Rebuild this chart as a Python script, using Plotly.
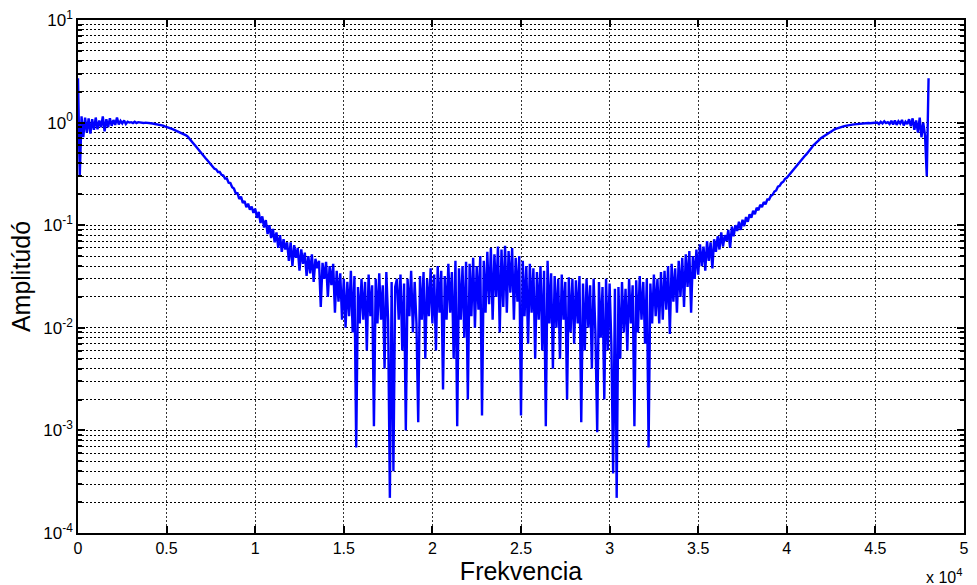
import numpy as np
import plotly.graph_objects as go

# Frequency grid (Hz), 100 Hz steps from 0 to 48000
frequency = np.arange(0, 48001, 100)

# Amplitude, one line per 1000 Hz
amplitude = [
    2.7, 0.3, 1.15, 0.72, 1.12, 0.8, 1.1, 0.78, 1.08, 0.85,            # 0
    1.12, 0.86, 1.05, 0.9, 1.15, 0.82, 1.08, 0.9, 1.1, 0.93,           # 1000
    1.06, 0.95, 1.12, 0.96, 1.04, 0.98, 1.05, 0.97, 1.02, 1.0,         # 2000
    1.01, 0.99, 1.02, 0.99, 1.01, 1.0, 1.0, 0.99, 1.0, 0.99,           # 3000
    0.99, 0.985, 0.98, 0.975, 0.97, 0.96, 0.955, 0.945, 0.935, 0.92,   # 4000
    0.91, 0.9, 0.885, 0.87, 0.855, 0.84, 0.83, 0.815, 0.8, 0.785,      # 5000
    0.77, 0.75, 0.73, 0.7, 0.67, 0.63, 0.6, 0.57, 0.54, 0.52,          # 6000
    0.49, 0.47, 0.45, 0.43, 0.41, 0.39, 0.375, 0.355, 0.35, 0.33,      # 7000
    0.33, 0.31, 0.305, 0.285, 0.285, 0.26, 0.258, 0.235, 0.228, 0.205, # 8000
    0.205, 0.18, 0.19, 0.165, 0.172, 0.15, 0.162, 0.142, 0.152, 0.132, # 9000
    0.145, 0.118, 0.135, 0.105, 0.122, 0.095, 0.112, 0.082, 0.1, 0.075,  # 10000
    0.092, 0.068, 0.085, 0.06, 0.08, 0.055, 0.073, 0.058, 0.068, 0.045,  # 11000
    0.068, 0.04, 0.064, 0.048, 0.06, 0.036, 0.058, 0.042, 0.054, 0.032,  # 12000
    0.05, 0.034, 0.052, 0.028, 0.047, 0.038, 0.045, 0.016, 0.043, 0.03,  # 13000
    0.044, 0.02, 0.04, 0.026, 0.042, 0.014, 0.036, 0.018, 0.034, 0.012,  # 14000
    0.03, 0.01, 0.028, 0.013, 0.036, 0.009, 0.032, 0.00068, 0.025, 0.011,   # 15000
    0.03, 0.012, 0.028, 0.006, 0.033, 0.013, 0.026, 0.0011, 0.03, 0.011,    # 16000
    0.034, 0.012, 0.026, 0.004, 0.035, 0.012, 0.00022, 0.028, 0.0004, 0.025,  # 17000
    0.03, 0.012, 0.033, 0.006, 0.027, 0.001, 0.03, 0.013, 0.036, 0.009,     # 18000
    0.028, 0.011, 0.0012, 0.032, 0.012, 0.035, 0.005, 0.03, 0.013, 0.038,   # 19000
    0.011, 0.033, 0.006, 0.04, 0.014, 0.036, 0.0025, 0.032, 0.012, 0.042,   # 20000
    0.014, 0.035, 0.005, 0.045, 0.0011, 0.038, 0.012, 0.04, 0.008, 0.044,   # 21000
    0.002, 0.042, 0.013, 0.048, 0.01, 0.04, 0.015, 0.05, 0.0014, 0.045,     # 22000
    0.014, 0.055, 0.017, 0.06, 0.012, 0.052, 0.02, 0.062, 0.009, 0.058,     # 23000
    0.016, 0.063, 0.014, 0.056, 0.022, 0.06, 0.012, 0.048, 0.018, 0.05,     # 24000
    0.0014, 0.045, 0.013, 0.04, 0.007, 0.042, 0.014, 0.038, 0.005, 0.035,   # 25000
    0.012, 0.04, 0.006, 0.036, 0.0011, 0.045, 0.011, 0.034, 0.004, 0.032,   # 26000
    0.01, 0.03, 0.005, 0.033, 0.012, 0.028, 0.002, 0.031, 0.009, 0.03,      # 27000
    0.007, 0.029, 0.011, 0.032, 0.0012, 0.027, 0.006, 0.03, 0.01, 0.026,    # 28000
    0.004, 0.03, 0.009, 0.00096, 0.028, 0.008, 0.025, 0.002, 0.03, 0.006,   # 29000
    0.027, 0.007, 0.00038, 0.024, 0.00022, 0.025, 0.005, 0.028, 0.009, 0.024,  # 30000
    0.006, 0.03, 0.011, 0.026, 0.0011, 0.029, 0.009, 0.032, 0.012, 0.028,   # 31000
    0.007, 0.03, 0.00068, 0.027, 0.011, 0.033, 0.013, 0.03, 0.011, 0.035,   # 32000
    0.012, 0.036, 0.015, 0.04, 0.0087, 0.042, 0.018, 0.038, 0.014, 0.045,   # 33000
    0.02, 0.048, 0.016, 0.052, 0.025, 0.056, 0.014, 0.05, 0.03, 0.058,      # 34000
    0.033, 0.065, 0.04, 0.062, 0.036, 0.07, 0.045, 0.068, 0.038, 0.073,     # 35000
    0.055, 0.078, 0.058, 0.085, 0.062, 0.08, 0.07, 0.09, 0.06, 0.097,       # 36000
    0.078, 0.1, 0.088, 0.108, 0.09, 0.113, 0.098, 0.12, 0.108, 0.128,       # 37000
    0.118, 0.138, 0.128, 0.148, 0.14, 0.158, 0.15, 0.168, 0.16, 0.178,      # 38000
    0.178, 0.193, 0.198, 0.213, 0.218, 0.238, 0.242, 0.258, 0.265, 0.283,   # 39000
    0.29, 0.305, 0.32, 0.335, 0.35, 0.37, 0.39, 0.41, 0.43, 0.45,           # 40000
    0.47, 0.49, 0.52, 0.54, 0.57, 0.6, 0.62, 0.65, 0.67, 0.7,               # 41000
    0.72, 0.74, 0.76, 0.78, 0.8, 0.82, 0.84, 0.86, 0.875, 0.89,             # 42000
    0.9, 0.91, 0.92, 0.93, 0.94, 0.945, 0.95, 0.955, 0.96, 0.965,           # 43000
    0.97, 0.975, 0.97, 0.98, 0.985, 0.98, 0.99, 0.985, 0.99, 1.0,           # 44000
    0.99, 1.0, 0.97, 1.02, 0.98, 1.03, 0.99, 1.01, 0.97, 1.04,              # 45000
    0.96, 1.05, 0.95, 1.03, 0.98, 1.06, 0.94, 1.02, 0.97, 1.08,             # 46000
    0.92, 1.1, 0.85, 1.05, 0.8, 1.12, 0.72, 1.0, 0.75, 0.3, 2.7,            # 47000-48000
]

x_tick_values = [0, 5000, 10000, 15000, 20000, 25000, 30000, 35000, 40000, 45000, 50000]
x_tick_labels = ["0", "0.5", "1", "1.5", "2", "2.5", "3", "3.5", "4", "4.5", "5"]
y_tick_values = [1e-4, 1e-3, 1e-2, 1e-1, 1e0, 1e1]
y_tick_labels = ["10<sup>-4</sup>", "10<sup>-3</sup>", "10<sup>-2</sup>",
                 "10<sup>-1</sup>", "10<sup>0</sup>", "10<sup>1</sup>"]
y_minor_values = [m * 10.0 ** e for e in range(-4, 1) for m in range(2, 10)]

FONT = "Arial, Liberation Sans, sans-serif"
GRID_DASH = "2px,2px"

fig = go.Figure()
fig.add_trace(go.Scatter(x=frequency, y=amplitude, mode="lines",
                         line=dict(color="#0000ff", width=2.4),
                         showlegend=False, hoverinfo="skip"))

fig.update_layout(
    width=977, height=585,
    margin=dict(l=78, r=8, t=18, b=52),
    paper_bgcolor="white", plot_bgcolor="white",
    font=dict(family=FONT, color="black", size=16),
)

fig.update_xaxes(
    range=[0, 50000],
    tickmode="array", tickvals=x_tick_values, ticktext=x_tick_labels,
    ticks="inside", ticklen=7, tickwidth=1.5, tickcolor="black",
    showline=True, linecolor="black", linewidth=1.5, mirror="ticks",
    showgrid=True, gridcolor="#333333", griddash=GRID_DASH, gridwidth=1,
    zeroline=False,
    tickfont=dict(size=16, family=FONT),
    title=dict(text="Frekvencia", font=dict(size=25, family=FONT), standoff=2),
)

fig.update_yaxes(
    type="log", range=[-4, 1],
    tickmode="array", tickvals=y_tick_values, ticktext=y_tick_labels,
    ticks="inside", ticklen=7, tickwidth=1.5, tickcolor="black",
    showline=True, linecolor="black", linewidth=1.5, mirror="ticks",
    showgrid=True, gridcolor="black", griddash=GRID_DASH, gridwidth=1,
    zeroline=False,
    tickfont=dict(size=17, family=FONT),
    minor=dict(tickmode="array", tickvals=y_minor_values, ticks="inside",
               ticklen=4, tickcolor="black", showgrid=True,
               gridcolor="black", griddash=GRID_DASH, gridwidth=1),
    title=dict(text="Amplitúdó", font=dict(size=25, family=FONT), standoff=6),
)

fig.add_annotation(
    text="x 10<sup>4</sup>", xref="paper", yref="paper",
    x=1.0, y=-0.06, xanchor="right", yanchor="top", showarrow=False,
    font=dict(size=16, family=FONT, color="black"),
)

fig.write_html("out.html")
